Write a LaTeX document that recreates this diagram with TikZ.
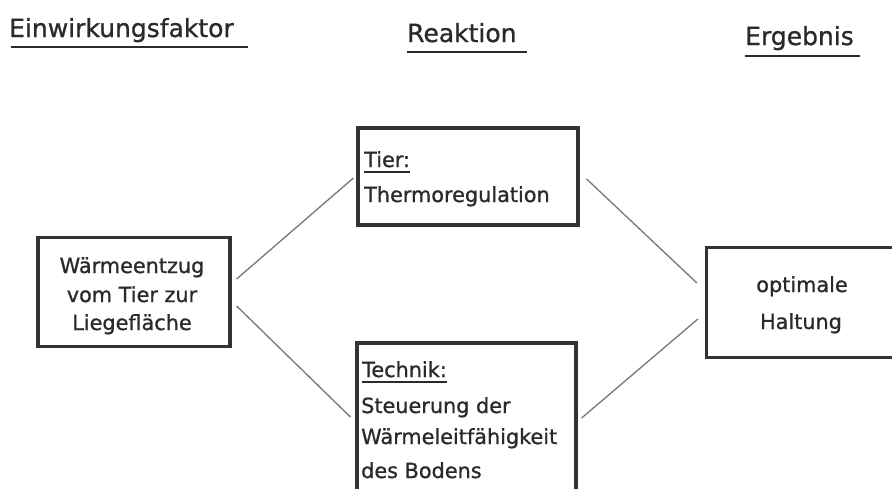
\documentclass[tikz,border=0pt]{standalone}
\usepackage{fontspec}
\setmainfont[FakeBold=0.9]{DejaVu Sans}
\usetikzlibrary{calc}
\definecolor{ink}{HTML}{2A2A2A}
\definecolor{frame}{HTML}{333333}
\definecolor{conn}{HTML}{777777}
\tikzset{
  box/.style={draw=frame, line width=3.2pt, rectangle, inner sep=0pt},
  txt/.style={text=ink, inner sep=0pt, font=\fontsize{20.8}{24}\selectfont},
  head/.style={text=ink, inner sep=0pt, anchor=base west, font=\fontsize{25}{30}\selectfont},
  uline/.style={draw=ink, line width=2pt},
  conline/.style={draw=conn, line width=1.3pt}
}
\begin{document}
\begin{tikzpicture}[x=1pt,y=-1pt]
\useasboundingbox (0,0) rectangle (892,488);
\fill[white] (0,0) rectangle (892,488);
\clip (0,0) rectangle (892,488);

% headers
\node[head] (h1) at (9,37) {Einwirkungsfaktor};
\node[head] (h2) at (407,42) {Reaktion};
\node[head] (h3) at (745,45) {Ergebnis};
\draw[uline] (11,47) -- (248,47);
\draw[uline] (407,52) -- (527,52);
\draw[uline] (745,56) -- (860,56);

% boxes
\node[box, minimum width=192pt, minimum height=109pt] (waerme) at (134,292) {};
\node[box, minimum width=220pt, minimum height=97pt] (tier) at (468,176.5) {};
\node[box, minimum width=219pt, minimum height=160pt] (technik) at (466.5,423) {};
\node[box, minimum width=199pt, minimum height=110pt] (haltung) at (806,302.5) {};

% left box text
\node[txt, anchor=base] (w1) at (132,273) {Wärmeentzug};
\node[txt, anchor=base] (w2) at (132,302) {vom Tier zur};
\node[txt, anchor=base] (w3) at (132,330) {Liegefläche};

% top box text
\node[txt, anchor=base west] (t1) at (364,167) {Tier:};
\draw[uline] ($(t1.base west)+(0,5)$) -- ($(t1.base east)+(0,5)$);
\node[txt, anchor=base west] (t2) at (364,202) {Thermoregulation};

% bottom box text
\node[txt, anchor=base west] (b1) at (362,377) {Technik:};
\draw[uline] ($(b1.base west)+(0,5)$) -- ($(b1.base east)+(0,5)$);
\node[txt, anchor=base west] (b2) at (361,413) {Steuerung der};
\node[txt, anchor=base west] (b3) at (361,444) {Wärmeleitfähigkeit};
\node[txt, anchor=base west] (b4) at (361,478) {des Bodens};

% right box text
\node[txt, anchor=base] (r1) at (802,292) {optimale};
\node[txt, anchor=base] (r2) at (801,329) {Haltung};

% connectors
\draw[conline] ($(waerme.east)+(5,-13)$) -- ($(tier.west)+(-3,1.5)$);
\draw[conline] ($(waerme.east)+(5,14)$) -- ($(technik.west)+(-5,-6)$);
\draw[conline] ($(tier.east)+(7,2.5)$) -- ($(haltung.west)+(-8,-19.5)$);
\draw[conline] ($(technik.east)+(4,-5)$) -- ($(haltung.west)+(-7,16.5)$);
\end{tikzpicture}
\end{document}
